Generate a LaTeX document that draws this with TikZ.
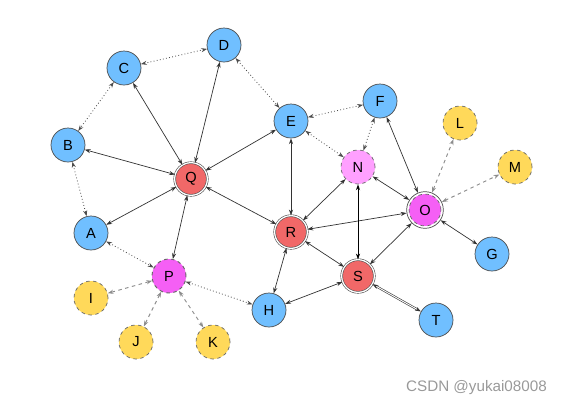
\documentclass[tikz,border=0pt]{standalone}
\usepackage{fontspec}
\setmainfont{Liberation Sans}
\usepackage{xcolor}
\usetikzlibrary{arrows.meta}
\definecolor{nblue}{RGB}{112,191,255}
\definecolor{nred}{RGB}{241,104,104}
\definecolor{npink}{RGB}{255,160,255}
\definecolor{nmag}{RGB}{245,95,245}
\definecolor{nyel}{RGB}{255,217,90}
\tikzset{
  base/.style={circle, minimum size=1.02cm, inner sep=0pt, font=\fontsize{12.5}{14}\selectfont},
  bnode/.style={base, fill=nblue, draw=black!70, line width=0.6pt},
  rnode/.style={base, fill=nred, draw=black!70, line width=0.5pt, double=white, double distance=1.1pt, minimum size=0.98cm},
  nnode/.style={base, fill=npink, draw=black!60, dashed, line width=0.6pt},
  pnode/.style={base, fill=nmag, draw=black!60, dashed, line width=0.8pt},
  onode/.style={base, fill=white, draw=black!70, line width=0.6pt, minimum size=1.1cm,
    path picture={\fill[nmag] (path picture bounding box.center) circle (13.6pt);
      \draw[black!60, dashed, line width=0.6pt] (path picture bounding box.center) circle (13.6pt);}},
  ynode/.style={base, fill=nyel, draw=black!60, dashed, line width=0.6pt},
  se/.style={draw=black!80, line width=0.6pt, <->, >={Stealth[length=5pt,width=3.5pt]}},
  de/.style={draw=black!70, line width=0.7pt, dotted, <->, >={Stealth[length=5pt,width=3.5pt]}},
  ge/.style={draw=black!45, line width=0.8pt, dashed, <->, >={Stealth[length=5pt,width=3.5pt]}},
  mark text/.style={text=black!40, font=\fontsize{13}{15}\selectfont, anchor=east}
}
\begin{document}
\begin{tikzpicture}[x=0.03cm, y=-0.03cm]
  \useasboundingbox (0,0) rectangle (566,406);
  % outer blue nodes
  \node[bnode] (C) at (124,68) {C};
  \node[bnode] (D) at (224,45) {D};
  \node[bnode] (B) at (68,145) {B};
  \node[bnode] (E) at (291,121) {E};
  \node[bnode] (F) at (380,101) {F};
  \node[bnode] (A) at (91,233) {A};
  \node[bnode] (G) at (492,254) {G};
  \node[bnode] (H) at (269,310) {H};
  \node[bnode] (T) at (436,320) {T};
  % red hubs
  \node[rnode] (Q) at (191,179) {Q};
  \node[rnode] (R) at (291,232) {R};
  \node[rnode] (S) at (358,276) {S};
  % magenta nodes
  \node[nnode] (N) at (358,167) {N};
  \node[onode] (O) at (425,210) {O};
  \node[pnode] (P) at (169,276) {P};
  % yellow leaves
  \node[ynode] (L) at (460,123) {L};
  \node[ynode] (M) at (515,167) {M};
  \node[ynode] (I) at (91,298) {I};
  \node[ynode] (J) at (136,342) {J};
  \node[ynode] (K) at (213,342) {K};
  % dotted ring
  \draw[de] (C)--(D); \draw[de] (C)--(B); \draw[de] (D)--(E);
  \draw[de] (B)--(A); \draw[de] (F)--(E); \draw[de] (E)--(N);
  \draw[de] (F)--(N); \draw[de] (A)--(P); \draw[de] (P)--(H);
  % solid links
  \draw[se] (C)--(Q); \draw[se] (D)--(Q); \draw[se] (B)--(Q);
  \draw[se] (E)--(Q); \draw[se] (A)--(Q); \draw[se] (Q)--(P);
  \draw[se] (Q)--(R); \draw[se] (E)--(R); \draw[se] (F)--(O);
  \draw[se] (N)--(O); \draw[se] (N)--(R); \draw[se] (O)--(R);
  \draw[se] (O)--(S); \draw[se] (O)--(G); \draw[se] (R)--(S);
  \draw[se] (R)--(H); \draw[se] (S)--(H);
  \draw[se, draw=black, line width=0.75pt] (N)--(S);
  \draw[se, double=white, double distance=0.8pt, line width=0.5pt] (S)--(T);
  % gray dashed leaves
  \draw[ge] (O)--(L); \draw[ge] (O)--(M);
  \draw[ge] (P)--(I); \draw[ge] (P)--(J); \draw[ge] (P)--(K);
  \node[mark text] (wm) at (551,388) {CSDN @yukai08008};
\end{tikzpicture}
\end{document}
